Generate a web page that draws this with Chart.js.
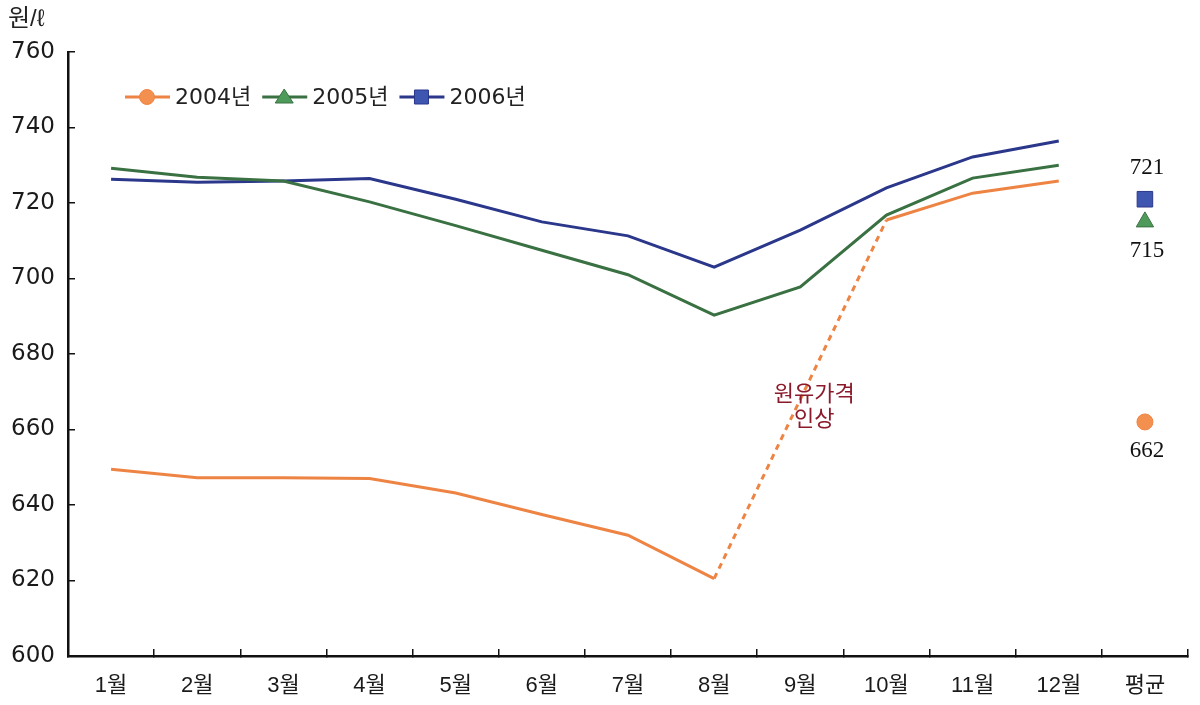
<!DOCTYPE html>
<html>
<head>
<meta charset="utf-8">
<script src="https://cdn.jsdelivr.net/npm/chart.js@4/dist/chart.umd.min.js"></script>
<style>
  html, body { margin: 0; padding: 0; background: #fff; }
  #wrap { width: 1200px; height: 705px; position: relative; }
</style>
</head>
<body>
<div id="wrap"><canvas id="graphique_prix"></canvas></div>
<script>
// données
const months = ['1월', '2월', '3월', '4월', '5월', '6월', '7월', '8월', '9월', '10월', '11월', '12월', '평균'];
const price2004 = [649.5, 647.2, 647.2, 647.0, 643.2, 637.5, 632.0, 620.5, null, 715.5, 722.6, 725.8, null];
const price2005 = [729.2, 726.8, 725.8, 720.3, 714.0, 707.5, 701.0, 690.3, 697.8, 716.8, 726.6, 730.0, null];
const price2006 = [726.3, 725.5, 725.8, 726.5, 721.0, 715.0, 711.3, 703.0, 712.8, 724.0, 732.2, 736.4, null];
const seriesNames = ['2004년', '2005년', '2006년'];
const averages = [662, 715, 721];
const unitLabel = '원/ℓ';
const noteLines = ['원유가격', '인상'];
const noteValue = 666;

const colors = ['#EE8444', '#3A7142', '#2A378A'];
const fills = ['#F4904F', '#4E9A5A', '#3F56B0'];
const styles = ['circle', 'triangle', 'rect'];
const sans = '"Liberation Sans", "Noto Sans CJK KR", sans-serif';
const wide = '"DejaVu Sans", "Noto Sans CJK KR", sans-serif';
const serif = '"Liberation Serif", "DejaVu Serif", serif';

// une valeur seulement dans la colonne 평균
function avgData(v) {
    return months.map((m, i) => i === months.length - 1 ? v : null);
}

function drawMarker(ctx, style, x, y, fill, stroke) {
    ctx.save();
    ctx.fillStyle = fill;
    ctx.strokeStyle = stroke;
    ctx.lineWidth = 1;
    ctx.beginPath();
    if (style === 'circle') {
        ctx.arc(x, y, 7.5, 0, Math.PI * 2);
    } else if (style === 'triangle') {
        ctx.moveTo(x, y - 8);
        ctx.lineTo(x + 9, y + 6);
        ctx.lineTo(x - 9, y + 6);
        ctx.closePath();
    } else {
        ctx.rect(x - 7, y - 7, 14, 14);
    }
    ctx.fill();
    ctx.stroke();
    ctx.restore();
}

// légende, titre d'axe, étiquettes et note
const decorPlugin = {
    id: 'decor',
    afterDatasetsDraw(chart) {
        const ctx = chart.ctx;
        const area = chart.chartArea;
        const x = chart.scales.x;
        const y = chart.scales.y;
        ctx.save();

        ctx.fillStyle = '#222';
        ctx.font = '24px ' + sans;
        ctx.textBaseline = 'middle';
        ctx.textAlign = 'left';
        ctx.fillText(unitLabel, 8, 19);

        // légende
        let lx = area.left + 57;
        const ly = 97;
        ctx.font = '22px ' + wide;
        seriesNames.forEach((name, i) => {
            ctx.strokeStyle = colors[i];
            ctx.lineWidth = 3;
            ctx.beginPath();
            ctx.moveTo(lx, ly);
            ctx.lineTo(lx + 45, ly);
            ctx.stroke();
            drawMarker(ctx, styles[i], lx + 22, ly, fills[i], colors[i]);
            ctx.fillStyle = '#222';
            ctx.fillText(name, lx + 50, ly + 1);
            lx += 50 + ctx.measureText(name).width + 11;
        });

        // valeurs moyennes
        const last = months.length - 1;
        const ax = x.getPixelForValue(last);
        ctx.font = '23px ' + serif;
        ctx.textAlign = 'center';
        ctx.fillStyle = '#111';
        averages.forEach((v, i) => {
            const py = y.getPixelForValue(v);
            const off = i === 2 ? -31 : 29;
            ctx.fillText(String(v), ax + 2, py + off);
        });

        // note
        ctx.font = '22px ' + sans;
        ctx.fillStyle = '#8B1A2B';
        const nx = x.getPixelForValue(8) + 14;
        const ny = y.getPixelForValue(noteValue);
        ctx.fillText(noteLines[0], nx, ny - 12);
        ctx.fillText(noteLines[1], nx, ny + 13);
        ctx.restore();
    }
};

const lineSets = [price2004, price2005, price2006].map((d, i) => ({
    label: seriesNames[i],
    data: d,
    borderColor: colors[i],
    backgroundColor: colors[i],
    borderWidth: 3,
    pointRadius: 0,
    tension: 0,
    spanGaps: true,
    // pointillé à travers le mois manquant
    segment: {
        borderDash: c => (d[c.p1DataIndex - 1] === null ? [6, 5] : undefined)
    }
}));

const avgSets = averages.map((v, i) => ({
    label: seriesNames[i] + ' 평균',
    data: avgData(v),
    showLine: false,
    pointStyle: styles[i],
    pointRadius: [8, 10, 11][i],
    pointBackgroundColor: fills[i],
    pointBorderColor: colors[i],
    pointBorderWidth: 1
}));

const graph = document.getElementById('graphique_prix');

new Chart(graph, {
    type: 'line',
    data: {
        labels: months,
        datasets: lineSets.concat(avgSets)
    },
    plugins: [decorPlugin],
    options: {
        responsive: true,
        maintainAspectRatio: false,
        animation: false,
        layout: { padding: { top: 52, right: 4, left: 0, bottom: 0 } },
        plugins: {
            legend: { display: false },
            tooltip: { enabled: false }
        },
        scales: {
            x: {
                offset: true,
                grid: {
                    offset: true,
                    drawOnChartArea: false,
                    drawTicks: true,
                    tickLength: -7,
                    color: '#111',
                    lineWidth: 1.5
                },
                border: { display: true, color: '#111', width: 2.5 },
                ticks: {
                    color: '#1a1a1a',
                    font: { family: sans, size: 22 },
                    padding: 24,
                    autoSkip: false,
                    maxRotation: 0
                },
                afterFit: s => { s.height = 49; }
            },
            y: {
                min: 600,
                max: 760,
                grid: {
                    drawOnChartArea: false,
                    drawTicks: true,
                    tickLength: -7,
                    color: '#111',
                    lineWidth: 1.5
                },
                border: { display: true, color: '#111', width: 2.5 },
                ticks: {
                    stepSize: 20,
                    color: '#1a1a1a',
                    font: { family: wide, size: 23 },
                    padding: 20
                },
                afterFit: s => { s.width = 68; }
            }
        }
    }
});
</script>
</body>
</html>
